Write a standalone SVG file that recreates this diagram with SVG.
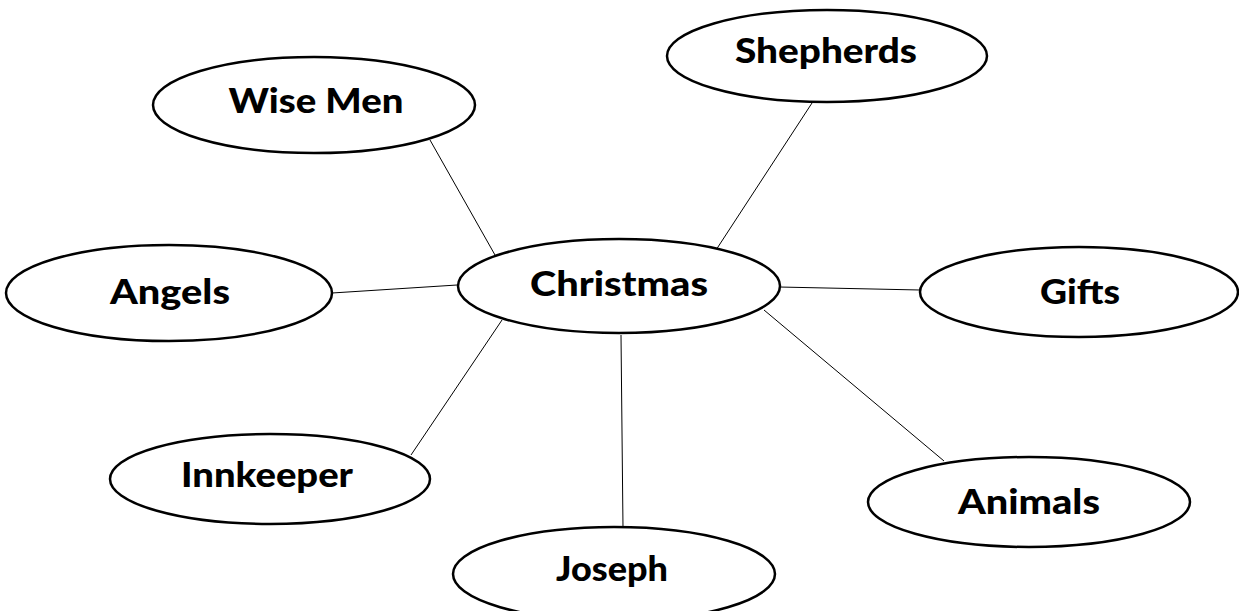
<svg xmlns="http://www.w3.org/2000/svg" width="1239" height="611" viewBox="0 0 1239 611">
<style>
.n ellipse{fill:#fff;stroke:#000;stroke-width:2.5}
.n text{font-family:Lato,"Open Sans","Liberation Sans",sans-serif;font-weight:900;font-size:35px;text-anchor:middle;fill:#000}
#connectors line{stroke:#000;stroke-width:1}
</style>
<rect width="1239" height="611" fill="#fff"/>
<g id="connectors">
<line x1="430" y1="140" x2="495" y2="255"/>
<line x1="812" y1="103" x2="716" y2="250"/>
<line x1="332" y1="293" x2="457" y2="285"/>
<line x1="779" y1="287" x2="920" y2="290"/>
<line x1="411" y1="455" x2="502" y2="320"/>
<line x1="621" y1="335" x2="623" y2="528"/>
<line x1="764" y1="310" x2="944" y2="461"/>
</g>
<g id="christmas" class="n"><ellipse cx="619" cy="286" rx="161" ry="47"/><text x="619" y="296" textLength="178" lengthAdjust="spacingAndGlyphs">Christmas</text></g>
<g id="wisemen" class="n"><ellipse cx="314" cy="105" rx="161" ry="48"/><text x="316" y="113" textLength="175" lengthAdjust="spacingAndGlyphs">Wise Men</text></g>
<g id="shepherds" class="n"><ellipse cx="827" cy="56" rx="160" ry="46"/><text x="826" y="63" textLength="182" lengthAdjust="spacingAndGlyphs">Shepherds</text></g>
<g id="angels" class="n"><ellipse cx="169" cy="293" rx="163" ry="48"/><text x="170" y="304" textLength="120" lengthAdjust="spacingAndGlyphs">Angels</text></g>
<g id="gifts" class="n"><ellipse cx="1079" cy="292" rx="159" ry="45"/><text x="1080" y="304" textLength="80" lengthAdjust="spacingAndGlyphs">Gifts</text></g>
<g id="innkeeper" class="n"><ellipse cx="270" cy="479" rx="160" ry="45"/><text x="267" y="487" textLength="172" lengthAdjust="spacingAndGlyphs">Innkeeper</text></g>
<g id="animals" class="n"><ellipse cx="1029" cy="502" rx="161" ry="45"/><text x="1029" y="514" textLength="142" lengthAdjust="spacingAndGlyphs">Animals</text></g>
<g id="joseph" class="n"><ellipse cx="614" cy="574" rx="161" ry="47"/><text x="612" y="581" textLength="112" lengthAdjust="spacingAndGlyphs">Joseph</text></g>
</svg>
